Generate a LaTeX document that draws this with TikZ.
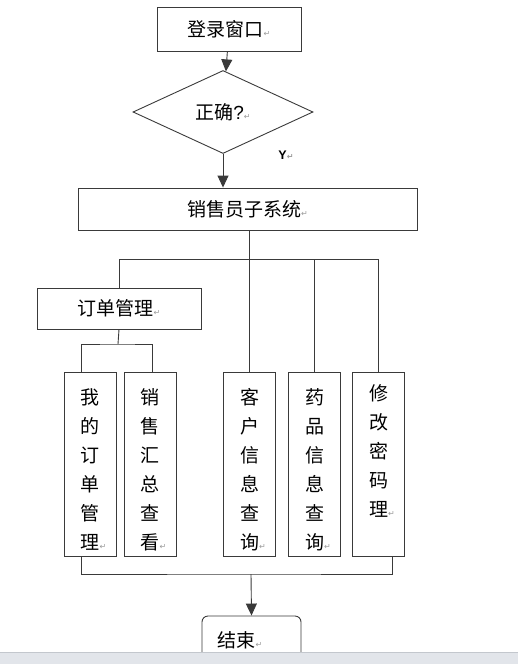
\documentclass[tikz,border=0pt]{standalone}
\usepackage{fontspec}
\setmainfont{Noto Sans CJK SC}
\newfontfamily\latinfont{Liberation Sans}
\newfontfamily\markfont{DejaVu Sans}
\usetikzlibrary{positioning,shapes.geometric,arrows.meta}
\definecolor{linegray}{HTML}{3A3A3A}
\definecolor{markgray}{HTML}{9A9A9A}
\definecolor{barfill}{HTML}{E2E5EA}
\definecolor{barline}{HTML}{C3C7CD}
\newcommand{\pmark}{{\markfont\fontsize{8}{8}\selectfont\textcolor{markgray}{↵}}}
\newcommand{\toppad}{\rule{0pt}{27pt}}
\begin{document}
\begin{tikzpicture}[x=1pt,y=-1pt,
	flowbox/.style={draw=linegray,line width=0.9pt,inner sep=0pt,font=\fontsize{19}{22}\selectfont},
	colbox/.style={flowbox,minimum width=52pt,minimum height=184pt,align=center,
		font=\fontsize{19}{29}\selectfont,execute at begin node={\lineskiplimit=-30pt\lineskip=0pt}},
	link/.style={draw=linegray,line width=0.9pt},
	flowarrow/.style={link,-{Triangle[width=11pt,length=12pt]}}]
	\useasboundingbox (0,0) rectangle (518,664);
	\node[flowbox,minimum width=144pt,minimum height=44pt] (login) at (229,29) {登录窗口\pmark};
	\node[flowbox,diamond,minimum width=180pt,minimum height=83pt] (check) at (223,112) {正确{\latinfont ?}\pmark};
	\node[font=\latinfont\bfseries\fontsize{12.5}{12.5}\selectfont] (yes) at (286,155) {Y\pmark};
	\node[flowbox,minimum width=339pt,minimum height=42pt] (sales) at (247.5,209) {销售员子系统\pmark};
	\node[flowbox,minimum width=164pt,minimum height=41pt] (order) at (119,308.5) {订单管理\pmark};
	\node[colbox] (mine) at (90,464) {\toppad 我\\的\\订\\单\\管\\理\rlap{\pmark}};
	\node[colbox] (total) at (150,464) {\toppad 销\\售\\汇\\总\\查\\看\rlap{\pmark}};
	\node[colbox] (client) at (249.5,464) {\toppad 客\\户\\信\\息\\查\\询\rlap{\pmark}};
	\node[colbox] (drug) at (314.5,464) {\toppad 药\\品\\信\\息\\查\\询\rlap{\pmark}};
	\node[colbox] (pwd) at (378.5,464) {\toppad 修\\改\\密\\码\\理\rlap{\pmark}\\\strut};
	\node[flowbox,rounded corners=6pt,minimum width=99pt,minimum height=64pt] (finish) at (251.5,648) {};
	\node[font=\fontsize{19}{22}\selectfont] (finishtext) at (240,640) {结束\pmark};
	\coordinate (bus) at (249,259);
	\coordinate (split) at (118,344);
	\coordinate (join) at (251,574);
	\draw[flowarrow] (login) -- (check);
	\draw[flowarrow] (check) -- (check.south |- sales.north);
	\draw[link] (sales.south -| client.north) -- (client.north);
	\draw[link] (order.north) -- (order.north |- bus) -| (pwd.north);
	\draw[link] (drug.north) -- (drug.north |- bus);
	\draw[link] (order.south) -- (split);
	\draw[link] ([xshift=-9pt]mine.north) |- (split) -| ([xshift=2pt]total.north);
	\draw[link] ([xshift=-9pt]mine.south) |- (join) -| ([xshift=13.5pt]pwd.south);
	\draw[flowarrow] (join) -- (finish.north);
	\fill[barfill] (0,652) rectangle (518,664);
	\draw[barline,line width=1pt] (0,652) -- (518,652);
\end{tikzpicture}
\end{document}
